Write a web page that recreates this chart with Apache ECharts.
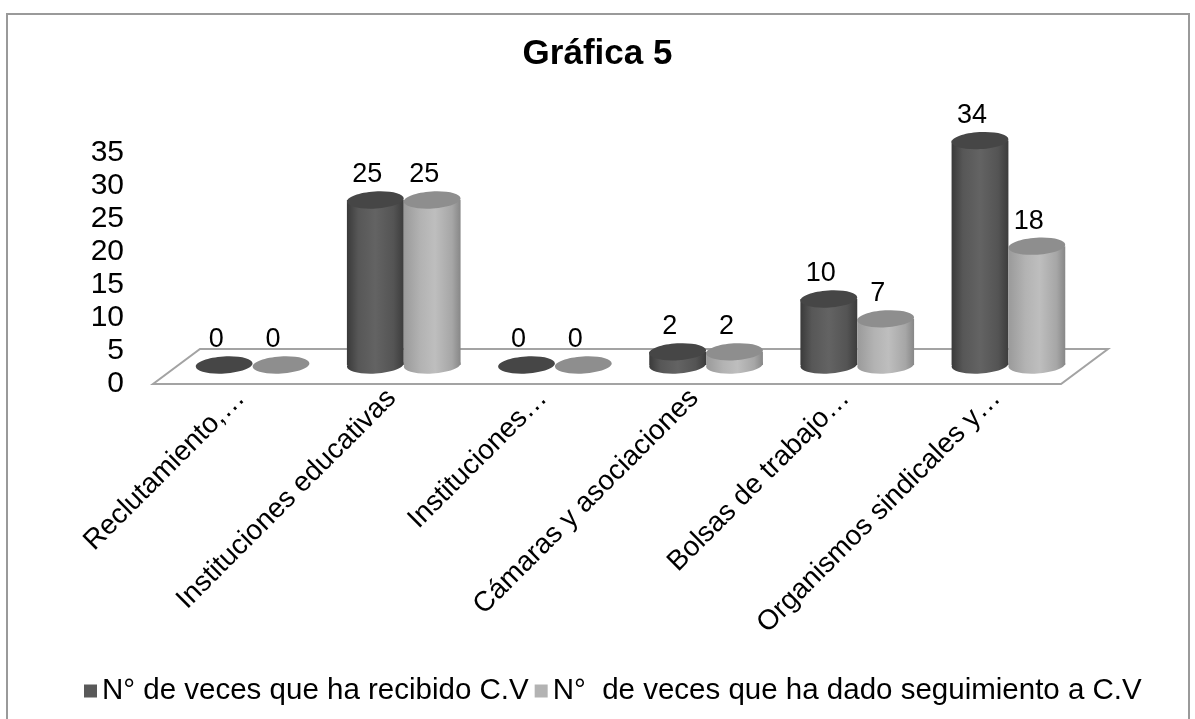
<!DOCTYPE html>
<html>
<head>
<meta charset="utf-8">
<title>Gráfica 5</title>
<script src="https://cdn.jsdelivr.net/npm/echarts@6/dist/echarts.min.js"></script>
<style>
  html, body { margin: 0; padding: 0; background: #fff; }
  #chart { width: 1195px; height: 719px; }
</style>
</head>
<body>
<div id="chart"></div>
<script>
// data
var categories = ['Reclutamiento,…', 'Instituciones educativas', 'Instituciones…', 'Cámaras y asociaciones', 'Bolsas de trabajo…', 'Organismos sindicales y…'];
var recibido = [0, 25, 0, 2, 10, 34];
var seguimiento = [0, 25, 0, 2, 7, 18];
var seriesNames = ['N° de veces que ha recibido C.V', 'N°  de veces que ha dado seguimiento a C.V'];
var yMin = 0, yMax = 35, yStep = 5;

var FONT = '"Liberation Sans", Arial, sans-serif';
var gridLeft = 177, gridWidth = 907;
var labelShift = 12; // excel puts the slanted labels a bit left of the bars

function linear(stops) {
  return { type: 'linear', x: 0, y: 0, x2: 1, y2: 0, colorStops: stops };
}
var darkBody = linear([
  { offset: 0, color: '#3a3a3a' }, { offset: 0.2, color: '#575757' },
  { offset: 0.5, color: '#636363' }, { offset: 0.82, color: '#545454' },
  { offset: 1, color: '#3c3c3c' }
]);
var lightBody = linear([
  { offset: 0, color: '#9a9a9a' }, { offset: 0.3, color: '#b3b3b3' },
  { offset: 0.55, color: '#bebebe' }, { offset: 0.85, color: '#a6a6a6' },
  { offset: 1, color: '#878787' }
]);

// cylinder drawn from the axis coords; side = -1 left bar, +1 right bar
function cylinder(side, body, top) {
  return function (params, api) {
    var idx = api.value(0);
    var val = api.value(1);
    var base = api.coord([idx, 0]);
    var tip = api.coord([idx, val]);
    var band = api.size([1, 0])[0];
    var rx = band * 0.188;
    var ry = 8.5;
    var cx = base[0] + side * rx;
    var kids = [];
    if (base[1] - tip[1] > 0.5) {
      kids.push({ type: 'ellipse', x: cx, y: base[1], rotation: 0.06,
        shape: { cx: 0, cy: 0, rx: rx, ry: ry }, style: { fill: body } });
      kids.push({ type: 'rect',
        shape: { x: cx - rx, y: tip[1], width: rx * 2, height: base[1] - tip[1] },
        style: { fill: body } });
    }
    kids.push({ type: 'ellipse', x: cx, y: tip[1], rotation: 0.06,
      shape: { cx: 0, cy: 0, rx: rx, ry: ry }, style: { fill: top } });
    kids.push({ type: 'text', style: {
      text: String(val), x: cx - 8, y: tip[1] - ry - 3,
      align: 'center', verticalAlign: 'bottom',
      font: '27px ' + FONT, fill: '#000'
    } });
    return { type: 'group', children: kids };
  };
}

function pairs(arr) {
  return arr.map(function (v, i) { return [i, v]; });
}

var chart = echarts.init(document.getElementById('chart'));
chart.setOption({
  animation: false,
  backgroundColor: '#fff',
  title: {
    text: 'Gráfica 5',
    left: 'center',
    top: 32,
    padding: [5, 5, 5, 25],
    textStyle: { fontFamily: FONT, fontSize: 35, fontWeight: 'bold', color: '#000' }
  },
  legend: {
    data: seriesNames,
    left: 79,
    top: 671,
    icon: 'rect',
    itemWidth: 13,
    itemHeight: 13,
    itemGap: 6,
    textStyle: { fontFamily: FONT, fontSize: 29.5, color: '#000' }
  },
  grid: [
    { left: gridLeft - labelShift, width: gridWidth, top: 153, height: 231 },
    { left: gridLeft, width: gridWidth, top: 134, height: 231 }
  ],
  xAxis: [
    {
      gridIndex: 0, type: 'category', data: categories,
      axisLine: { show: false }, axisTick: { show: false },
      axisLabel: { interval: 0, rotate: 45, margin: 10,
        fontFamily: FONT, fontSize: 28, color: '#000' }
    },
    { gridIndex: 1, type: 'category', data: categories, show: false }
  ],
  yAxis: [
    {
      gridIndex: 0, type: 'value', min: yMin, max: yMax, interval: yStep,
      axisLine: { show: false }, axisTick: { show: false }, splitLine: { show: false },
      axisLabel: { margin: 53 - labelShift, fontFamily: FONT, fontSize: 30, color: '#000' }
    },
    { gridIndex: 1, type: 'value', min: yMin, max: yMax, interval: yStep, show: false, splitLine: { show: false } }
  ],
  graphic: [
    { type: 'rect', z: -10, shape: { x: 7, y: 14, width: 1182, height: 720 },
      style: { fill: 'none', stroke: '#9a9a9a', lineWidth: 2 } },
    { type: 'polygon', z: -5,
      shape: { points: [
        [gridLeft - 24, 384], [gridLeft + gridWidth - 23, 384],
        [gridLeft + gridWidth + 24, 349], [gridLeft + 23, 349]
      ] },
      style: { fill: '#fff', stroke: '#a3a3a3', lineWidth: 2 } }
  ],
  series: [
    {
      name: seriesNames[0], type: 'custom', xAxisIndex: 1, yAxisIndex: 1,
      itemStyle: { color: '#595959' },
      renderItem: cylinder(-1, darkBody, '#464646'),
      encode: { x: 0, y: 1 },
      data: pairs(recibido)
    },
    {
      name: seriesNames[1], type: 'custom', xAxisIndex: 1, yAxisIndex: 1,
      itemStyle: { color: '#b3b3b3' },
      renderItem: cylinder(1, lightBody, '#8e8e8e'),
      encode: { x: 0, y: 1 },
      data: pairs(seguimiento)
    }
  ]
});
</script>
</body>
</html>
